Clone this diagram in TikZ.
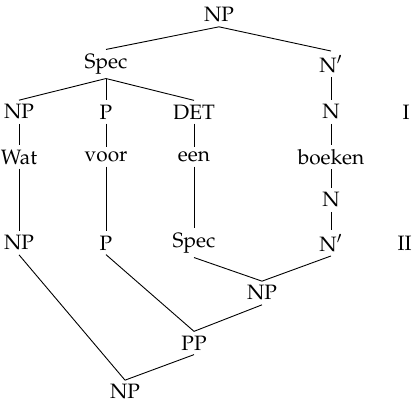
\documentclass[tikz,border=0pt]{standalone}
\usepackage[T1]{fontenc}
\usepackage{mathpazo}
\usetikzlibrary{positioning}

\begin{document}
\begin{tikzpicture}[
    x=0.5pt, y=-0.5pt,
    every node/.style={font=\fontsize{10.4}{12}\selectfont},
    cat/.style={inner sep=2pt, anchor=center},
    word/.style={inner sep=2pt, anchor=center},
    lvl/.style={inner sep=0pt, anchor=east},
    br/.style={line width=0.45pt, black},
]
\useasboundingbox (0,0) rectangle (413,406);

% === Upper tree ===
\node[cat] (np0) at (219, 15) {NP};
\node[cat] (spec0) at (106, 64) {Spec};
\node[cat] (nbar0) at (331, 64) {N$'$};

\node[cat] (np1) at (19, 112) {NP};
\node[cat] (p1) at (106, 112) {P};
\node[cat] (det1) at (194, 112) {DET};
\node[cat] (n1) at (331, 112) {N};
\node[lvl] (lvI) at (410, 112) {I};

\draw[br] (np0.south) -- (spec0.north);
\draw[br] (np0.south) -- (nbar0.north);
\draw[br] (spec0.south) -- (np1.north);
\draw[br] (spec0.south) -- (p1.north);
\draw[br] (spec0.south) -- (det1.north);
\draw[br] (nbar0.south) -- (n1.north);

% === Words ===
\node[word] (wat) at (19, 157) {Wat};
\node[word] (voor) at (106, 157) {voor};
\node[word] (een) at (194, 157) {een};
\node[word] (boeken) at (331, 157) {boeken};

\draw[br] (np1.south) -- (wat.north);
\draw[br] (p1.south) -- (voor.north);
\draw[br] (det1.south) -- (een.north);
\draw[br] (n1.south) -- (boeken.north);

% === Lower tree ===
\node[cat] (n2) at (331, 200) {N};

\node[cat] (np2) at (19, 243) {NP};
\node[cat] (p2) at (106, 243) {P};
\node[cat] (spec2) at (194, 243) {Spec};
\node[cat] (nbar2) at (331, 243) {N$'$};
\node[lvl] (lvII) at (412, 243) {II};

\draw[br] (boeken.south) -- (n2.north);
\draw[br] (n2.south) -- (nbar2.north);
\draw[br] (wat.south) -- (np2.north);
\draw[br] (voor.south) -- (p2.north);
\draw[br] (een.south) -- (spec2.north);

\node[cat] (np3) at (262, 293) {NP};
\node[cat] (pp3) at (194, 343) {PP};
\node[cat] (np4) at (125, 392) {NP};

\draw[br] (spec2.south) -- (np3.north);
\draw[br] (nbar2.south) -- (np3.north);
\draw[br] (p2.south) -- (pp3.north);
\draw[br] (np3.south) -- (pp3.north);
\draw[br] (np2.south) -- (np4.north);
\draw[br] (pp3.south) -- (np4.north);

\end{tikzpicture}
\end{document}
